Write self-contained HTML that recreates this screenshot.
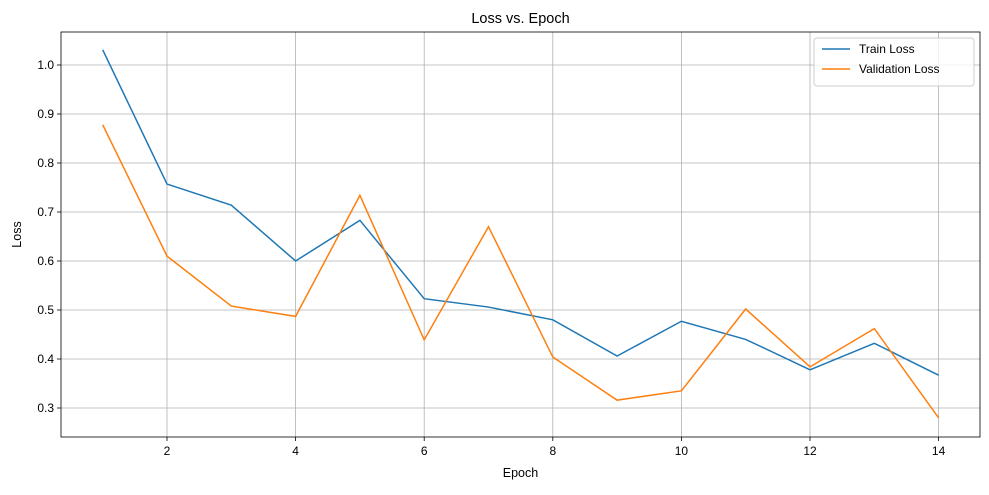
<!DOCTYPE html>
<html><head><meta charset="utf-8"><style>
body{margin:0;background:#fff;font-family:"Liberation Sans","DejaVu Sans",sans-serif;}
svg text{font-family:"Liberation Sans","DejaVu Sans",sans-serif;fill:#000;}
</style></head><body>
<svg id="chart" width="989" height="490"></svg>
<script>
const epochs=[1,2,3,4,5,6,7,8,9,10,11,12,13,14];
const trainLoss=[1.031,0.757,0.714,0.600,0.683,0.523,0.506,0.480,0.406,0.477,0.440,0.378,0.432,0.367];
const valLoss=[0.878,0.610,0.508,0.487,0.734,0.439,0.670,0.404,0.316,0.335,0.502,0.384,0.462,0.280];
const xTicks=[2,4,6,8,10,12,14];
const yTicks=[0.3,0.4,0.5,0.6,0.7,0.8,0.9,1.0];
const L=61,R=980,T=32,B=437;
const xs=v=>102.7+(v-1)*64.3;
const ys=v=>408-(v-0.3)*490;
const svg=document.getElementById('chart');
const NS='http://www.w3.org/2000/svg';
function mk(t,a,p){const e=document.createElementNS(NS,t);for(const k in a)e.setAttribute(k,a[k]);(p||svg).appendChild(e);return e;}
xTicks.forEach(v=>{const x=xs(v);
const g=mk('line',{x1:x,x2:x,y1:T,y2:B,stroke:'#b0b0b0','stroke-width':0.8});


mk('line',{x1:x,x2:x,y1:B,y2:B+4,stroke:'#000','stroke-width':0.8});
const t=mk('text',{x:x,y:B+18,'text-anchor':'middle','font-size':12});t.textContent=v;

});
yTicks.forEach(v=>{const y=ys(v);
const g=mk('line',{x1:L,x2:R,y1:y,y2:y,stroke:'#b0b0b0','stroke-width':0.8});


mk('line',{x1:L-4,x2:L,y1:y,y2:y,stroke:'#000','stroke-width':0.8});
const t=mk('text',{x:L-7,y:y+4,'text-anchor':'end','font-size':12});t.textContent=v.toFixed(1);

});
function series(d,c,n){const p=mk('polyline',{points:d.map((v,i)=>xs(epochs[i])+','+ys(v)).join(' '),fill:'none',stroke:c,'stroke-width':1.5});

}
series(trainLoss,'#1f77b4','train-loss-line');
series(valLoss,'#ff7f0e','validation-loss-line');
const fr=mk('rect',{x:L,y:T,width:R-L,height:B-T,fill:'none',stroke:'#000','stroke-width':0.8});


const ti=mk('text',{x:(L+R)/2,y:23,'text-anchor':'middle','font-size':14.5});ti.textContent='Loss vs. Epoch';


const xl=mk('text',{x:(L+R)/2,y:477,'text-anchor':'middle','font-size':12.5});xl.textContent='Epoch';


const yl=mk('text',{x:21,y:(T+B)/2,'text-anchor':'middle','font-size':12.5,transform:'rotate(-90 21 '+(T+B)/2+')'});yl.textContent='Loss';


const lg=mk('g',{});


mk('rect',{x:814,y:38,width:160,height:48,rx:3,fill:'#fff','fill-opacity':0.8,stroke:'#ccc'},lg);
[['Train Loss','#1f77b4'],['Validation Loss','#ff7f0e']].forEach((e,i)=>{const y=53+i*20;
const it=mk('g',{},lg);


mk('line',{x1:822,x2:850,y1:y-4,y2:y-4,stroke:e[1],'stroke-width':1.5},it);
const t=mk('text',{x:859,y:y,'font-size':12},it);t.textContent=e[0];});
</script>
</body></html>
